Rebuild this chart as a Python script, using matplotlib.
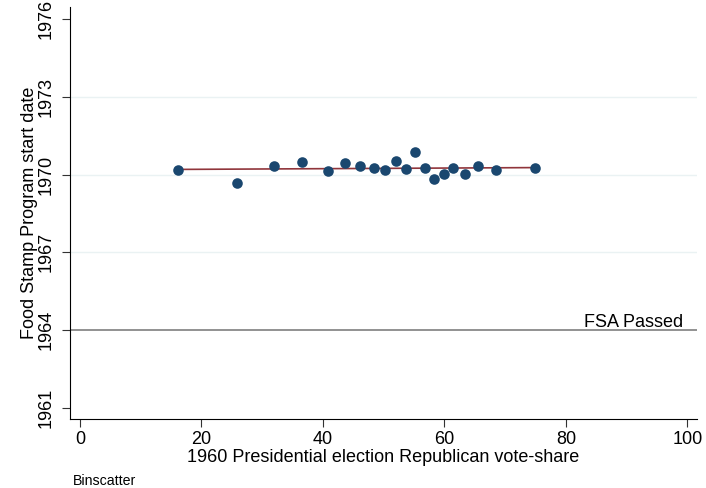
import numpy as np
import matplotlib.pyplot as plt

plt.rcParams['font.family'] = ['Liberation Sans', 'DejaVu Sans']

# binned means
vote_share = [16.1, 25.8, 31.9, 36.6, 40.8, 43.7, 46.1, 48.4, 50.3, 52.0,
              53.6, 55.1, 56.8, 58.3, 59.9, 61.5, 63.4, 65.5, 68.5, 75.0]
start_date = [1970.18, 1969.66, 1970.35, 1970.47, 1970.14, 1970.45, 1970.35, 1970.24, 1970.17, 1970.51,
              1970.23, 1970.89, 1970.24, 1969.83, 1970.01, 1970.27, 1970.04, 1970.32, 1970.18, 1970.27]
# linear fit endpoints
fit_x = [16.1, 75.0]
fit_y = [1970.20, 1970.27]
fsa_year = 1964
y_ticks = [1961, 1964, 1967, 1970, 1973, 1976]
x_ticks = [0, 20, 40, 60, 80, 100]

navy = "#1a476f"
maroon = "#90353b"

f = plt.figure(figsize=[7.06, 4.88], dpi=100)
ax = f.add_axes([70/706, 69/488, 627/706, 412/488])

xlims = [-1.65, 101.6]
ylims = [1960.58, 1976.46]

for y in y_ticks:
    if y in (1967, 1970, 1973):
        ax.axhline(y, color="#eaf2f3", linewidth=1, zorder=0)
ax.axhline(fsa_year, color="#7f7f7f", linewidth=1.2, zorder=1)
ax.text(99.3, fsa_year + 0.12, "FSA Passed", ha="right", va="baseline", fontsize=13)

ax.plot(fit_x, fit_y, color=maroon, linewidth=1.2, zorder=2)
ax.scatter(vote_share, start_date, s=58, color=navy, zorder=3, linewidths=0)

ax.set_xlim(xlims)
ax.set_ylim(ylims)
ax.set_xticks(x_ticks)
ax.set_yticks(y_ticks)
ax.set_yticklabels([str(y) for y in y_ticks], rotation=90, va="center")
ax.tick_params(labelsize=13, length=6, width=0.8, color="#333333")
ax.tick_params(axis="y", pad=5)
ax.tick_params(axis="x", pad=3)
ax.spines["top"].set_visible(False)
ax.spines["right"].set_visible(False)
ax.set_xlabel("1960 Presidential election Republican vote-share", fontsize=13, labelpad=0)
ax.set_ylabel("Food Stamp Program start date", fontsize=13, labelpad=0)
f.text(73/706, 1 - 485/488, "Binscatter", fontsize=10.2, va="baseline")

f.savefig("out.png", dpi=100)
